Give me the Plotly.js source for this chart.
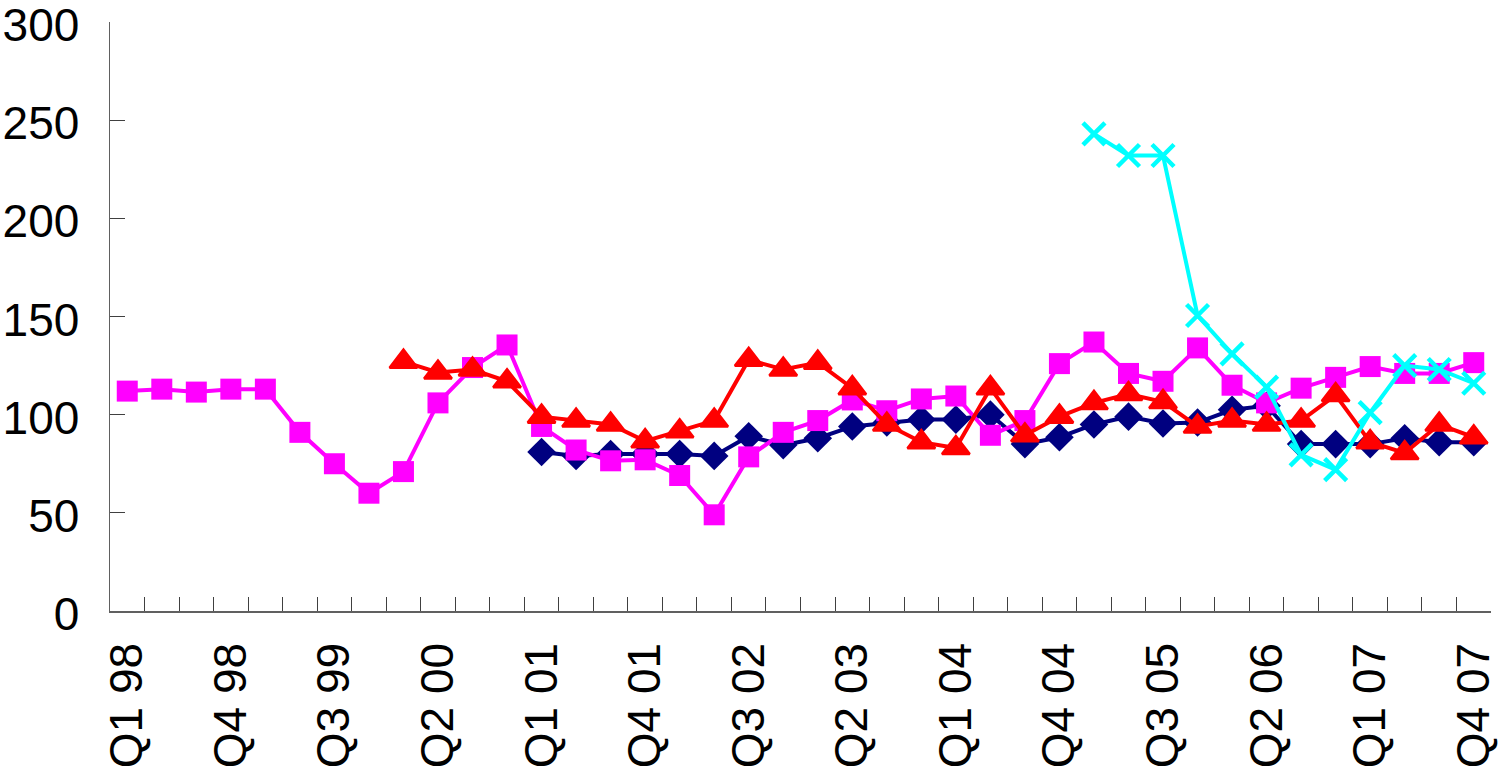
<!DOCTYPE html>
<html>
<head>
<meta charset="utf-8">
<script src="https://cdn.plot.ly/plotly-3.0.1.min.js"></script>
<style>
  html, body { margin: 0; padding: 0; background: #ffffff; }
  #chart { width: 1504px; height: 779px; }
</style>
</head>
<body>
<div id="chart"></div>
<script>
// Quarter categories, Q1 98 .. Q4 07
const categories = [
  'Q1 98','Q2 98','Q3 98','Q4 98',
  'Q1 99','Q2 99','Q3 99','Q4 99',
  'Q1 00','Q2 00','Q3 00','Q4 00',
  'Q1 01','Q2 01','Q3 01','Q4 01',
  'Q1 02','Q2 02','Q3 02','Q4 02',
  'Q1 03','Q2 03','Q3 03','Q4 03',
  'Q1 04','Q2 04','Q3 04','Q4 04',
  'Q1 05','Q2 05','Q3 05','Q4 05',
  'Q1 06','Q2 06','Q3 06','Q4 06',
  'Q1 07','Q2 07','Q3 07','Q4 07'
];

// Tick labels that are shown on the x axis
const tickLabels = ['Q1 98','Q4 98','Q3 99','Q2 00','Q1 01','Q4 01','Q3 02',
                    'Q2 03','Q1 04','Q4 04','Q3 05','Q2 06','Q1 07','Q4 07'];

// Y axis ticks
const yTicks = [0, 50, 100, 150, 200, 250, 300];

// Series values (null = no data)
const seriesNavy = [
  null,null,null,null,null,null,null,null,null,null,null,null,
  81,79,80,80,80,79,89,84.5,88,94,96,97.5,97.5,100,85,88.5,95,99,95.5,96,102.5,104.5,85,85,85,88,86,86
];
const seriesMagenta = [
  112,113,111.5,113,113,91,75,60,71,106,124,135.5,
  94,82,76.5,77,69,49,78.5,91,97,107.5,102,108,109.5,89.5,97,126,137,121,117,134,115,106,113.5,119,124.5,121,121,126.5
];
const seriesRed = [
  null,null,null,null,null,null,null,null,
  127,121.5,123,117,99,97,95,86.5,91.5,97,128,123,126.5,113.5,95,86,83,113.5,89.5,99,106,110.5,106.5,94,97,95,97,110,86,80.5,95,88.5
];
const seriesCyan = [
  null,null,null,null,null,null,null,null,null,null,null,null,
  null,null,null,null,null,null,null,null,null,null,null,null,null,null,null,null,
  243,232,232,150.5,131,114,79.5,72,101,125,123,116
];

const FONT = '"Liberation Sans", Arial, Helvetica, sans-serif';

const traces = [
  {
    x: categories, y: seriesNavy, type: 'scatter', mode: 'lines+markers',
    name: 'Series 1',
    line: { color: '#000080', width: 4 },
    marker: { symbol: 'diamond', size: 22, color: '#000080' }
  },
  {
    x: categories, y: seriesMagenta, type: 'scatter', mode: 'lines+markers',
    name: 'Series 2',
    line: { color: '#FF00FF', width: 4 },
    marker: { symbol: 'square', size: 21, color: '#FF00FF' }
  },
  {
    x: categories, y: seriesRed, type: 'scatter', mode: 'lines+markers',
    name: 'Series 3',
    line: { color: '#FF0000', width: 4 },
    marker: { symbol: 'triangle-up', size: 24, color: '#FF0000', line: { color: '#FF0000', width: 2.5 } }
  },
  {
    x: categories, y: seriesCyan, type: 'scatter', mode: 'lines+markers',
    name: 'Series 4',
    line: { color: '#00FFFF', width: 4 },
    marker: { symbol: 'x-thin', size: 22, color: '#00FFFF', line: { color: '#00FFFF', width: 4.5 } }
  }
];

const layout = {
  width: 1504, height: 779,
  margin: { l: 110, r: 12.5, t: 22, b: 168, pad: 0 },
  paper_bgcolor: '#ffffff', plot_bgcolor: '#ffffff',
  showlegend: false,
  font: { family: FONT, size: 46, color: '#000000' },
  xaxis: {
    type: 'category',
    categoryorder: 'array', categoryarray: categories,
    range: [-0.5, categories.length - 0.5],
    tickmode: 'array',
    tickvals: categories,
    ticktext: categories.map(c => tickLabels.includes(c) ? c : ''),
    tickson: 'boundaries',
    ticks: 'inside', ticklen: 14, tickwidth: 1, tickcolor: '#404040',
    tickangle: -90,
    ticklabelstandoff: 12,
    ticklabeloverflow: 'allow',
    tickfont: { family: FONT, size: 46, color: '#000000' },
    showgrid: false, zeroline: false,
    showline: true, linecolor: '#606060', linewidth: 1.5,
    automargin: false,
    fixedrange: true
  },
  yaxis: {
    range: [0, 300],
    tickmode: 'array', tickvals: yTicks, ticktext: yTicks.map(String),
    ticks: 'inside', ticklen: 15, tickwidth: 1, tickcolor: '#404040',
    ticklabelstandoff: 20,
    ticklabelshift: 3,
    ticklabeloverflow: 'allow',
    tickfont: { family: FONT, size: 46, color: '#000000' },
    showgrid: false, zeroline: false,
    showline: true, linecolor: '#606060', linewidth: 1.5,
    automargin: false,
    fixedrange: true
  }
};

Plotly.newPlot('chart', traces, layout, { staticPlot: true, displayModeBar: false });
</script>
</body>
</html>
